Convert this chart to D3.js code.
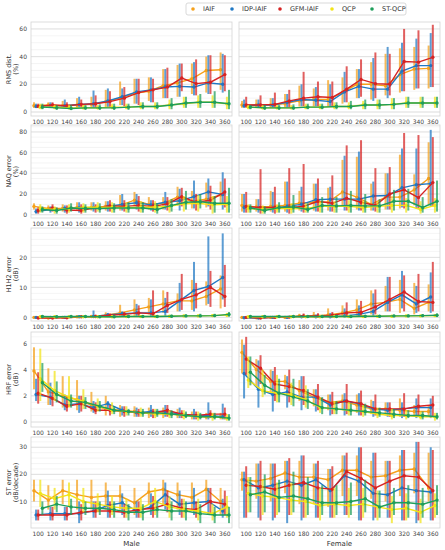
<!DOCTYPE html>
<html>
<head>
<meta charset="utf-8">
<script src="https://cdn.jsdelivr.net/npm/d3@7"></script>
<style>
  body { margin: 0; background: #fff; }
  text { font-family: "DejaVu Sans", sans-serif; }
</style>
</head>
<body>
<div id="chart"></div>
<script>
// Methods, colours and axis labels
const methods = ["IAIF", "IDP-IAIF", "GFM-IAIF", "QCP", "ST-QCP"];
const methodColors = ["#f5a01a", "#1f78c4", "#d62222", "#f2e416", "#1e9e5a"];
const f0Labels = ["100", "120", "140", "160", "180", "200", "220", "240", "260", "280", "300", "320", "340", "360"];
const genderLabels = ["Male", "Female"];
const metricLabels = [["RMS dist.", "(%)"], ["NAQ error", "(%)"], ["H1H2 error", "(dB)"], ["HRF error", "(dB)"], ["ST error", "(dB/decade)"]];
const yTicks = [[0, 20, 40, 60], [0, 20, 40, 60, 80], [0, 10, 20], [0, 2, 4, 6], [10, 20, 30]];
const yMinorStep = [5, 5, 2, 0.5, 2];
const yLimits = [[-2.9, 65], [-3.2, 86.7], [-1.2, 29.8], [-0.38, 6.87], [0.2, 33.8]];

// Data: one row per method (IAIF, IDP-IAIF, GFM-IAIF, QCP, ST-QCP)
const rmsMaleMean = [
  [4.5, 5, 4.5, 5, 5.5, 7.5, 10, 13.5, 15, 19, 21, 24, 30, 30.5],
  [4, 4.5, 4.5, 5.5, 6, 8, 11, 14.5, 16, 18, 18.5, 18, 21, 20],
  [4, 5, 4.5, 5.5, 6, 7.5, 10, 14, 16, 18, 24.5, 20.5, 21.5, 27],
  [3.5, 3.5, 3, 3, 3, 3.5, 3.5, 4, 4, 5, 6, 7, 7, 6],
  [3.5, 3, 2.5, 3, 3, 3, 3.5, 4, 4, 5, 6.5, 7, 7, 6]];
const rmsMaleLo = [
  [3, 3, 3, 3, 3, 3, 5, 6, 8, 10, 11, 13, 14, 16],
  [3, 3, 3, 3, 3, 3, 5, 6, 7, 10, 11, 12, 13, 14],
  [3, 3, 3, 3, 3, 3, 4, 5, 7, 10, 15, 12, 13, 15],
  [2, 2, 2, 2, 2, 2, 2, 2, 2, 2, 3, 3, 3, 2],
  [2, 1.5, 1.5, 1.5, 1.5, 1.5, 1.5, 2, 2, 2, 3, 3, 3, 2]];
const rmsMaleHi = [
  [7, 7, 8, 10, 11, 16, 22, 24, 25, 31, 34, 35, 40, 43],
  [6, 7, 9, 11, 15.5, 17, 17, 24, 25, 31, 35, 36, 41, 42],
  [6, 7, 7, 9, 12, 15, 18, 24, 24, 32, 35, 38, 41, 41],
  [6, 5, 5, 5, 5, 6, 6, 7, 7, 9, 11, 12, 12, 11],
  [6, 5, 5, 5, 5.5, 6, 6, 7, 7, 10, 11, 13, 15, 16]];

const rmsFemaleMean = [
  [5, 5, 5, 6, 8, 9, 9, 14, 20, 20, 19, 27, 31, 31.5],
  [4.5, 5, 5, 7, 9, 8.5, 7.5, 14.5, 18.5, 16.5, 16.5, 29.5, 33.5, 33.5],
  [5, 5, 5.5, 8, 10, 11, 10.5, 16.5, 23.5, 20.5, 20, 36.5, 36, 39.5],
  [3.5, 3, 3, 3, 3.5, 3.5, 4, 4, 5, 5, 5.5, 6.5, 6.5, 6.5],
  [3.5, 3, 3, 3, 3.5, 3.5, 4, 4, 5, 5, 5.5, 6.5, 6.5, 6.5]];
const rmsFemaleLo = [
  [3, 3, 3, 3, 4, 4, 4, 6, 10, 9, 12, 14, 16, 17],
  [3, 3, 3, 3, 4, 4, 4, 7, 10, 8, 10, 15, 17, 18],
  [3, 3, 3, 3, 4, 4, 4, 7, 11, 10, 12, 15, 17, 18],
  [2, 2, 2, 2, 2, 2, 2, 2, 2, 2, 2, 3, 3, 3],
  [2, 1.5, 1.5, 1.5, 2, 2, 2, 2, 2, 2, 2, 3, 3, 3]];
const rmsFemaleHi = [
  [8, 9, 10, 13, 19, 17, 23, 25, 31, 36, 42, 46, 47, 48],
  [9, 9, 10, 13, 20, 18, 20, 29, 31, 39, 47, 50, 53, 57],
  [11, 12, 14, 16, 29, 22, 22, 33, 38, 43, 42, 60, 59, 63],
  [5, 5, 5, 5, 6, 6, 7, 7, 8, 9, 10, 11, 11, 11],
  [5, 5, 5, 5.5, 6, 6, 7, 8, 9, 9, 10, 11, 11, 11]];

const naqMaleMean = [
  [8, 6, 6, 7, 7, 8, 9, 14, 10, 11, 17, 13, 15, 19],
  [3, 5, 6, 6.5, 7, 8, 10, 11.5, 9.5, 12, 13.5, 17.5, 22, 19.5],
  [4, 6.5, 4.5, 4, 7, 8.5, 8, 9, 8, 10.5, 17.5, 12, 14, 22],
  [6, 5, 6, 7, 7.5, 7, 7, 7, 7.5, 8, 10.5, 11, 9.5, 10],
  [5, 4, 6.5, 6, 6, 6.5, 6.5, 6.5, 5, 9, 12, 12.5, 11, 11]];
const naqMaleLo = [
  [5, 4, 3, 4, 4, 4, 4, 8, 5, 5, 9, 6, 7, 10],
  [1, 2, 2, 2, 3, 3, 4, 5, 4, 5, 4, 6, 8, 5],
  [1, 3, 1, 1, 2, 3, 3, 3, 3, 4, 8, 4, 5, 7],
  [2, 1, 2, 2, 3, 2, 2, 2, 2, 2, 3, 3, 1, 2],
  [2, 1, 3, 2, 2, 2, 2, 2, 1, 3, 5, 6, 2, 2]];
const naqMaleHi = [
  [11, 9, 10, 12, 12, 13, 19, 22, 17, 17, 27, 23, 31, 32],
  [6, 8, 9, 12, 12, 13, 20, 20, 14, 22, 25, 33, 35, 41],
  [7, 10, 9, 10, 10, 14, 14, 18, 14, 17, 26, 20, 28, 35],
  [10, 8, 10, 11, 12, 12, 12, 13, 13, 14, 18, 19, 18, 18],
  [8, 7, 11, 10, 11, 11, 12, 12, 11, 15, 23, 20, 18, 26]];

const naqFemaleMean = [
  [9, 7.5, 8, 9, 11, 12, 12, 22, 17, 10, 17, 17, 24, 35],
  [7, 6, 6, 8, 10, 14.5, 15, 15, 15, 18, 18.5, 26, 29, 30],
  [8, 7, 7, 7, 8, 13, 11, 16, 12, 9, 20, 24, 16.5, 31],
  [6, 5, 6, 6, 6, 8, 8, 8, 7, 8, 9, 9, 5, 9],
  [6.5, 4, 7, 7.5, 5, 9, 8.5, 9, 8.5, 8.5, 13, 13, 7, 13]];
const naqFemaleLo = [
  [3, 3, 3, 3, 4, 4, 4, 8, 5, 4, 5, 6, 9, 10],
  [2, 2, 2, 2, 3, 3, 3, 4, 4, 4, 5, 7, 6, 8],
  [2, 1, 1, 1, 2, 3, 3, 4, 4, 3, 5, 6, 6, 8],
  [2, 1, 2, 1, 2, 2, 2, 2, 2, 2, 2, 2, 1, 2],
  [2, 1, 2, 2, 2, 2, 2, 2, 2, 2, 4, 4, 2, 3]];
const naqFemaleHi = [
  [20, 15, 23, 32, 23, 30, 26, 53, 56, 30, 40, 58, 39, 70],
  [20, 15, 22, 32, 27, 30, 27, 57, 61, 32, 40, 64, 64, 82],
  [22, 44, 27, 45, 49, 35, 38, 67, 72, 45, 46, 79, 77, 75],
  [10, 9, 10, 11, 11, 13, 13, 14, 13, 13, 16, 16, 13, 16],
  [10, 8, 12, 19, 11, 17, 17, 23, 20, 15, 24, 25, 17, 33]];

const h1h2MaleMean = [
  [0, -0.2, 0, 0.2, 0.3, 0.7, 1.5, 2.5, 3.5, 4.5, 5.5, 5.5, 7, 9.5],
  [0, 0, 0, 0.2, 0.3, 0.8, 1.2, 1.5, 1.5, 2, 5.5, 9, 10.3, 13.3],
  [-0.2, -0.2, -0.1, 0.2, 0.3, 0.7, 1, 1.5, 1.2, 4, 6, 7.5, 10, 7],
  [0.2, 0.2, 0.2, 0.2, 0.2, 0.2, 0.3, 0.3, 0.3, 0.4, 0.5, 0.5, 0.6, 0.8],
  [0.3, 0.2, 0.3, 0.3, 0.2, 0.2, 0.3, 0.3, 0.3, 0.4, 0.5, 0.5, 0.6, 1]];
const h1h2MaleLo = [
  [-0.3, -0.5, -0.3, -0.2, -0.1, 0, 0.2, 0.5, 1, 1.5, 2, 2.5, 4, 3],
  [-0.3, -0.3, -0.3, -0.2, 0, 0, 0.2, 0.3, 0.5, 0.5, 2, 2, 4.5, 6],
  [-0.3, -0.5, -0.4, -0.2, -0.1, 0, 0.1, 0.3, 0.3, 1.5, 2.5, 3, 3.5, 3.5],
  [0, 0, 0, 0, 0, 0, 0, 0, 0, 0, 0.1, 0.1, 0.1, 0.2],
  [0, 0, 0, 0, 0, 0, 0, 0, 0, 0, 0.1, 0.1, 0.1, 0.2]];
const h1h2MaleHi = [
  [0.3, 0.2, 0.4, 0.6, 0.8, 1.7, 4.2, 6, 6.5, 9, 8, 12.5, 12, 14],
  [0.3, 0.2, 0.3, 0.6, 2.3, 1.5, 2, 4.5, 6, 6.5, 11.5, 18.5, 27, 28],
  [0.3, 0.2, 0.3, 0.6, 0.9, 1.2, 1.8, 4, 9, 8.5, 14.5, 11.5, 15.5, 17.5],
  [0.5, 0.5, 0.5, 0.5, 0.5, 0.6, 0.6, 0.7, 0.7, 0.8, 0.9, 1, 1.1, 1.5],
  [0.8, 0.6, 0.6, 0.6, 0.6, 0.6, 0.7, 0.7, 0.8, 0.9, 1, 1.2, 1.2, 1.8]];

const h1h2FemaleMean = [
  [0, -0.1, 0, 0, 0.5, 0.5, 0.8, 1.5, 2.5, 4.5, 5, 6, 3, 5],
  [-0.1, -0.2, 0, 0, 0.2, 0.2, 0.2, 0.5, 1, 2, 5, 7.5, 4.5, 6.8],
  [0, -0.2, 0, 0.1, 0.5, 0.5, 0.7, 1.5, 1.7, 3.5, 6, 8.5, 5.3, 5],
  [0.2, 0.2, 0.2, 0.2, 0.2, 0.2, 0.3, 0.3, 0.3, 0.4, 0.4, 0.5, 0.5, 0.6],
  [0.3, 0.3, 0.3, 0.3, 0.3, 0.3, 0.3, 0.3, 0.4, 0.4, 0.5, 0.5, 0.6, 0.7]];
const h1h2FemaleLo = [
  [-0.3, -0.4, -0.3, -0.3, 0, 0, 0, 0.3, 0.5, 1, 2, 1.5, 1, 2],
  [-0.3, -0.4, -0.3, -0.3, -0.1, 0, 0, 0.1, 0.2, 0.5, 2, 3, 1.5, 1.5],
  [-0.3, -0.4, -0.3, -0.3, 0, 0, 0, 0.3, 0.4, 1, 2, 2, 2, 2],
  [0, 0, 0, 0, 0, 0, 0, 0, 0, 0, 0, 0.1, 0.1, 0.1],
  [0, 0, 0, 0, 0, 0, 0, 0, 0, 0, 0.1, 0.1, 0.1, 0.1]];
const h1h2FemaleHi = [
  [0.3, 0.2, 0.4, 0.5, 1.2, 1.8, 3, 4, 6, 9, 10.5, 12.5, 11.5, 11],
  [0.3, 0.2, 0.3, 0.4, 0.8, 1, 1.5, 3, 4, 8, 13.5, 15.5, 10.5, 15],
  [0.4, 0.2, 0.4, 0.5, 1.3, 1.4, 1.8, 5, 5.5, 9.3, 13.5, 14, 14.5, 18.5],
  [0.5, 0.5, 0.5, 0.5, 0.5, 0.6, 0.6, 0.7, 0.7, 0.8, 0.8, 0.9, 0.9, 1],
  [0.7, 0.6, 0.6, 0.6, 0.6, 0.6, 0.7, 0.7, 0.8, 0.8, 0.9, 1, 1.1, 1.3]];

const hrfMaleMean = [
  [3.9, 2.3, 2, 1.7, 1.3, 1, 0.9, 0.8, 0.7, 0.7, 0.6, 0.5, 0.4, 0.4],
  [2.1, 1.9, 1.3, 1.4, 1.1, 1.4, 0.9, 0.7, 0.8, 0.8, 0.6, 0.5, 0.5, 0.4],
  [2.2, 1.8, 1.2, 1.4, 0.9, 0.9, 0.8, 0.7, 0.7, 0.9, 0.6, 0.5, 0.6, 0.6],
  [3.3, 2.4, 1.9, 1.6, 1.2, 0.9, 0.8, 0.7, 0.6, 0.6, 0.5, 0.4, 0.4, 0.3],
  [3, 2.1, 1.6, 1.5, 1.2, 0.9, 0.8, 0.7, 0.7, 0.6, 0.5, 0.4, 0.4, 0.3]];
const hrfMaleLo = [
  [2.5, 1.3, 1.1, 0.9, 0.8, 0.5, 0.4, 0.4, 0.3, 0.3, 0.3, 0.2, 0.2, 0.2],
  [1.6, 1.3, 0.9, 0.7, 0.7, 0.9, 0.5, 0.4, 0.4, 0.4, 0.3, 0.2, 0.2, 0.2],
  [1.4, 1.2, 0.8, 0.8, 0.6, 0.5, 0.4, 0.4, 0.3, 0.4, 0.3, 0.2, 0.3, 0.2],
  [1.6, 1.6, 1.1, 1, 0.8, 0.6, 0.5, 0.4, 0.3, 0.3, 0.2, 0.1, 0.1, 0.1],
  [2.3, 1.5, 1.1, 1, 0.8, 0.6, 0.5, 0.4, 0.4, 0.3, 0.3, 0.2, 0.2, 0.1]];
const hrfMaleHi = [
  [5.7, 4.1, 3.5, 3.2, 2.3, 2, 1.3, 1.2, 1.1, 1.1, 1, 0.8, 0.7, 0.7],
  [3.3, 3, 2.1, 2, 1.6, 1.6, 1.2, 1.1, 1.3, 1.3, 1.1, 1, 1.5, 1.4],
  [3.8, 2.4, 2, 2, 1.5, 1.3, 1.2, 1, 1, 1.3, 0.9, 0.8, 0.9, 1.1],
  [5.6, 3.9, 3.5, 2.5, 1.8, 1.5, 1.2, 1.1, 1, 0.9, 0.9, 0.8, 0.7, 0.6],
  [4.5, 3.1, 2.1, 1.9, 1.6, 1.2, 1, 1, 1, 0.9, 0.8, 0.7, 0.7, 0.6]];

const hrfFemaleMean = [
  [5.3, 4, 3.1, 3.1, 2.4, 1.9, 1.5, 1.6, 1.3, 1, 1, 0.9, 0.8, 0.8],
  [3.7, 2.5, 2.1, 2.3, 1.9, 1.9, 1.3, 1.6, 1.4, 1, 0.9, 1, 1.1, 1.1],
  [4.8, 4.1, 2.9, 2.7, 2.4, 1.9, 1.4, 1.6, 1.4, 1, 1, 1, 1.2, 1.3],
  [3.2, 2.4, 2.2, 2.1, 1.7, 1.1, 1, 0.9, 0.8, 0.6, 0.5, 0.5, 0.4, 0.4],
  [3.8, 2.8, 2.2, 1.9, 1.6, 1.1, 1, 0.9, 0.8, 0.7, 0.6, 0.5, 0.5, 0.4]];
const hrfFemaleLo = [
  [3.7, 2.7, 2.2, 2.5, 1.6, 1.2, 0.9, 0.9, 0.7, 0.6, 0.5, 0.4, 0.4, 0.4],
  [1.8, 1.1, 0.8, 1.1, 0.9, 0.8, 0.5, 0.5, 0.5, 0.4, 0.4, 0.3, 0.3, 0.3],
  [3.6, 2.9, 1.6, 1.5, 1.3, 0.9, 0.6, 0.6, 0.5, 0.5, 0.4, 0.4, 0.4, 0.4],
  [2.6, 1.9, 1.5, 1.3, 1.1, 0.7, 0.6, 0.5, 0.4, 0.3, 0.2, 0.2, 0.2, 0.1],
  [2.8, 2.1, 1.5, 1.2, 1, 0.6, 0.6, 0.5, 0.5, 0.4, 0.3, 0.3, 0.2, 0.2]];
const hrfFemaleHi = [
  [6.3, 4.8, 4, 3.6, 3.2, 2.5, 2.1, 2.1, 2.1, 1.7, 1.5, 1.8, 1.3, 1.3],
  [5.9, 4.7, 3.9, 3.5, 3.5, 2.5, 2.1, 2.2, 2.2, 1.6, 1.5, 1.5, 1.8, 1.8],
  [6.5, 5.1, 4.2, 4, 3.5, 2.9, 2.3, 2.9, 2.4, 2.1, 1.5, 2.2, 2.1, 2],
  [5, 4, 3.6, 3, 2.8, 1.9, 1.6, 1.5, 1.3, 1.1, 1, 0.9, 0.8, 0.7],
  [5, 3.6, 3.3, 3.3, 2.5, 1.9, 1.6, 1.4, 1.4, 1.1, 1, 0.9, 0.8, 0.7]];

const stMaleMean = [
  [14, 10.5, 14, 12.5, 11.5, 12, 12, 9.5, 13.5, 14.5, 12.5, 11.5, 14.5, 10],
  [5, 5.5, 5.5, 5.5, 6.5, 8.5, 9.5, 6.5, 8, 12.5, 9, 9.5, 10, 6.5],
  [5, 5, 5, 6, 6.5, 6.5, 6, 7, 7.5, 9, 7.5, 7, 10, 9],
  [13, 11, 12.5, 10, 9, 8, 7.5, 7.5, 10, 8, 7, 6.5, 5.5, 8],
  [7.5, 9, 8, 7.5, 7.5, 7, 6, 6, 7, 6.5, 6.5, 5.5, 5, 5]];
const stMaleLo = [
  [10, 7, 9, 7, 7, 7, 7, 5, 9, 9, 7, 7, 9, 5],
  [3, 3, 3, 2, 4, 4, 5, 4, 5, 7, 5, 5, 5, 4],
  [3, 3, 3, 3, 4, 4, 4, 4, 4, 6, 4, 4, 5, 5],
  [8, 7, 8, 6, 6, 5, 4, 4, 5, 4, 4, 3, 3, 4],
  [5, 6, 5, 5, 5, 4, 3, 3, 4, 3, 3, 2, 2, 2]];
const stMaleHi = [
  [18, 16, 18, 18, 18, 17, 16, 15, 17, 18, 17, 17, 18, 15],
  [7, 8, 8, 10, 10, 14, 13, 10, 13, 17, 14, 15, 15, 11],
  [7, 8, 8, 9, 10, 10, 9, 10, 12, 14, 11, 10, 15, 14],
  [18, 15, 17, 15, 13, 12, 11, 11, 15, 12, 11, 11, 9, 12],
  [10, 12, 11, 10, 10, 10, 9, 9, 10, 10, 10, 9, 8, 8]];

const stFemaleMean = [
  [18, 17.5, 18.5, 20.5, 19, 19, 18, 21.5, 21.5, 19, 19.5, 21.5, 22, 15],
  [18, 15, 16, 17.5, 16, 18, 14, 19.5, 17.5, 13, 12.5, 15, 14, 13.5],
  [16, 15.5, 14.5, 16, 17, 15, 14.5, 21, 18.5, 15, 17.5, 19.5, 19, 14],
  [13, 12, 11.5, 10.5, 10, 8.5, 9, 8.5, 9, 8, 7, 7.5, 6, 8.5],
  [12.5, 13.5, 11.5, 12, 11, 9.5, 9.5, 10, 11, 8, 9.5, 9.5, 9, 10.5]];
const stFemaleLo = [
  [14, 11, 10, 13, 9, 9, 8, 12, 12, 11, 10, 12, 13, 10],
  [4, 4, 3, 2, 3, 4, 4, 5, 3, 3, 4, 3, 2, 3],
  [4, 3, 4, 5, 4, 4, 4, 5, 3, 4, 4, 3, 3, 3],
  [6, 5, 5, 5, 4, 3, 4, 4, 4, 3, 2, 3, 2, 4],
  [6, 6, 6, 6, 5, 5, 5, 5, 6, 4, 5, 4, 4, 5]];
const stFemaleHi = [
  [21, 24, 24, 25, 25, 24, 22, 27, 27, 25, 25, 27, 28, 28],
  [21, 24, 24, 25, 27, 24, 22, 27, 30, 28, 25, 29, 32, 30],
  [23, 25, 24, 26, 27, 25, 23, 28, 30, 28, 25, 29, 32, 29],
  [19, 18, 17, 17, 16, 15, 15, 15, 15, 14, 12, 13, 11, 13],
  [19, 20, 18, 21, 19, 16, 16, 17, 18, 14, 15, 16, 15, 16]];

// Table of panels built from the arrays above: [row][column]
const panelData = [
  [[rmsMaleMean, rmsMaleLo, rmsMaleHi], [rmsFemaleMean, rmsFemaleLo, rmsFemaleHi]],
  [[naqMaleMean, naqMaleLo, naqMaleHi], [naqFemaleMean, naqFemaleLo, naqFemaleHi]],
  [[h1h2MaleMean, h1h2MaleLo, h1h2MaleHi], [h1h2FemaleMean, h1h2FemaleLo, h1h2FemaleHi]],
  [[hrfMaleMean, hrfMaleLo, hrfMaleHi], [hrfFemaleMean, hrfFemaleLo, hrfFemaleHi]],
  [[stMaleMean, stMaleLo, stMaleHi], [stFemaleMean, stFemaleLo, stFemaleHi]]];

// Layout
var width = 445;
var height = 550;
var colX = [[31, 232], [239, 440]];
var rowY = [[22, 116], [125, 218], [228, 321], [332, 427], [437, 528]];
var dodgeStep = 2.1; // horizontal offset between methods, px

var svg = d3
  .select("#chart")
  .append("svg")
  .attr("width", width)
  .attr("height", height);

rowY.forEach(function (ry, r) {
  var y = d3.scaleLinear().domain(yLimits[r]).range([ry[1], ry[0]]);
  var minorTicks = d3.range(
    Math.ceil(yLimits[r][0] / yMinorStep[r]) * yMinorStep[r],
    yLimits[r][1],
    yMinorStep[r]
  );

  colX.forEach(function (cx, c) {
    var x = d3.scalePoint().domain(f0Labels).range(cx).padding(0.5);
    var g = svg.append("g");

    // Panel background and grid
    g.append("rect")
      .attr("x", cx[0])
      .attr("y", ry[0])
      .attr("width", cx[1] - cx[0])
      .attr("height", ry[1] - ry[0])
      .attr("fill", "#fff");

    g.selectAll("line.minor")
      .data(minorTicks)
      .enter()
      .append("line")
      .attr("x1", cx[0])
      .attr("x2", cx[1])
      .attr("y1", (d) => y(d))
      .attr("y2", (d) => y(d))
      .attr("stroke", "#ededed")
      .attr("stroke-width", 0.6);

    g.selectAll("line.major")
      .data(yTicks[r])
      .enter()
      .append("line")
      .attr("x1", cx[0])
      .attr("x2", cx[1])
      .attr("y1", (d) => y(d))
      .attr("y2", (d) => y(d))
      .attr("stroke", "#dcdcdc")
      .attr("stroke-width", 0.8);

    // Y tick labels, left column only (shared y)
    if (c === 0) {
      g.selectAll("text.ytick")
        .data(yTicks[r])
        .enter()
        .append("text")
        .attr("x", cx[0] - 4)
        .attr("y", (d) => y(d))
        .attr("dy", "0.35em")
        .attr("text-anchor", "end")
        .style("font-size", "6px")
        .attr("fill", "#444")
        .text((d) => d);
    }

    // X tick labels
    g.selectAll("text.xtick")
      .data(f0Labels)
      .enter()
      .append("text")
      .attr("x", (d) => x(d))
      .attr("y", ry[1] + 8)
      .attr("text-anchor", "middle")
      .style("font-size", "6px")
      .attr("fill", "#444")
      .text((d) => d);

    // Series: error bars, line, markers
    var [means, los, his] = panelData[r][c];
    methods.forEach(function (m, k) {
      var off = (k - 2) * dodgeStep;
      var pts = means[k].map(function (v, i) {
        return { x: x(f0Labels[i]) + off, mean: v, lo: los[k][i], hi: his[k][i] };
      });

      g.selectAll(null)
        .data(pts)
        .enter()
        .append("line")
        .attr("x1", (d) => d.x)
        .attr("x2", (d) => d.x)
        .attr("y1", (d) => y(d.lo))
        .attr("y2", (d) => y(d.hi))
        .attr("stroke", methodColors[k])
        .attr("stroke-width", 2)
        .attr("opacity", 0.72);

      g.append("path")
        .datum(pts)
        .attr("fill", "none")
        .attr("stroke", methodColors[k])
        .attr("stroke-width", 1.4)
        .attr("d", d3.line().x((d) => d.x).y((d) => y(d.mean)));

      g.selectAll(null)
        .data(pts)
        .enter()
        .append("circle")
        .attr("cx", (d) => d.x)
        .attr("cy", (d) => y(d.mean))
        .attr("r", 1.7)
        .attr("fill", methodColors[k]);
    });

    // Panel border
    g.append("rect")
      .attr("x", cx[0])
      .attr("y", ry[0])
      .attr("width", cx[1] - cx[0])
      .attr("height", ry[1] - ry[0])
      .attr("fill", "none")
      .attr("stroke", "#d4d4d4")
      .attr("stroke-width", 0.8);
  });

  // Y axis label (two lines)
  var cy = (ry[0] + ry[1]) / 2;
  metricLabels[r].forEach(function (t, j) {
    svg.append("text")
      .attr("transform", "translate(" + (11 + j * 6.5) + "," + cy + ") rotate(-90)")
      .attr("text-anchor", "middle")
      .style("font-size", "6.5px")
      .attr("fill", "#333")
      .text(t);
  });
});

// Column labels
genderLabels.forEach(function (t, c) {
  svg.append("text")
    .attr("x", (colX[c][0] + colX[c][1]) / 2)
    .attr("y", 546)
    .attr("text-anchor", "middle")
    .style("font-size", "7px")
    .attr("fill", "#333")
    .text(t);
});

// Legend
var legendX = [193, 232, 280, 332, 372];
svg.append("rect")
  .attr("x", 186)
  .attr("y", 3)
  .attr("width", 220)
  .attr("height", 12)
  .attr("rx", 2)
  .attr("fill", "#fff")
  .attr("stroke", "#cfcfcf")
  .attr("stroke-width", 0.8);

var legend = svg
  .selectAll("g.legend")
  .data(methods)
  .enter()
  .append("g")
  .attr("transform", (d, i) => "translate(" + legendX[i] + ",9)");

legend.append("circle")
  .attr("r", 1.8)
  .attr("fill", (d, i) => methodColors[i]);

legend.append("text")
  .attr("x", 10)
  .attr("dy", "0.35em")
  .style("font-size", "6.5px")
  .attr("fill", "#333")
  .text((d) => d);
</script>
</body>
</html>
